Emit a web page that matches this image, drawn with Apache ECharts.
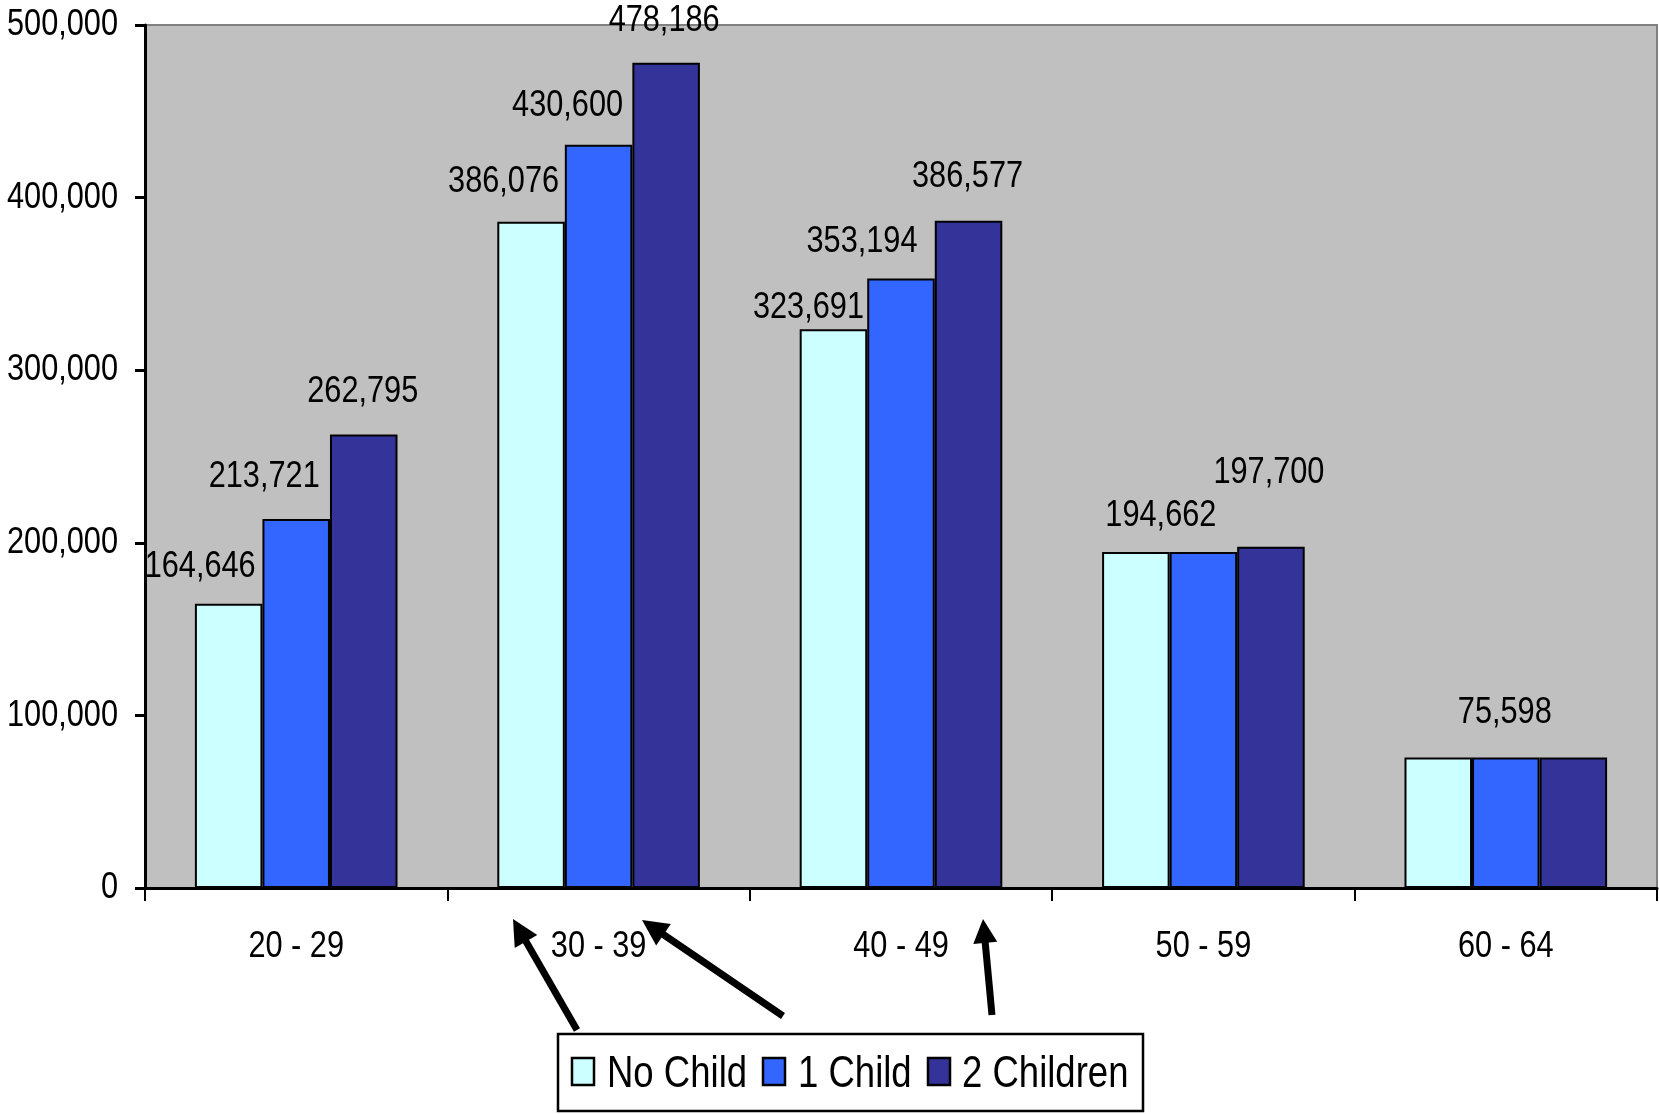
<!DOCTYPE html>
<html>
<head>
<meta charset="utf-8">
<script src="https://cdn.jsdelivr.net/npm/echarts@6/dist/echarts.min.js"></script>
<style>
  html, body { margin: 0; padding: 0; background: #ffffff; }
  #chart { width: 1659px; height: 1114px; }
</style>
</head>
<body>
<div id="chart"></div>
<script>
// Age bands on the category axis
const ageGroups = ['20 - 29', '30 - 39', '40 - 49', '50 - 59', '60 - 64'];

// Values per household type
const seriesNames = ['No Child', '1 Child', '2 Children'];
const noChild     = [164646, 386076, 323691, 194662, 75598];
const oneChild    = [213721, 430600, 353194, 194662, 75598];
const twoChildren = [262795, 478186, 386577, 197700, 75598];

// Value axis range
const yMin = 0;
const yMax = 500000;
const yStep = 100000;

// Which bars carry a printed value
const labelShown = [
  [true, true, true, true, false],
  [true, true, true, false, true],
  [true, true, true, true, false]
];

// ---- layout / styling (kept apart from the data) ----
const FONT = "'Liberation Sans', Arial, sans-serif";
const FS = 37;          // axis and value labels
const LEGEND_FS = 44;   // legend captions
const LH = 40;
const NARROW = 0.83;    // horizontal squeeze giving a narrow sans look
const colors = ['#CCFFFF', '#3366FF', '#333399'];

// horizontal shift and height of label centre above the bar top, per bar
const labelPlacement = [
  [[-28.5, 37], [-27.5, 40], [-25, 22], [25, 36], [0, 0]],
  [[-32, 42.5], [-31, 39], [-39, 37], [0, 0], [-1, 44.5]],
  [[-1, 42.5], [-2, 41.5], [-1, 43.5], [-2, 73.5], [0, 0]]
];

// legend box and entry anchors
const legendBox = { x: 558, y: 1034, w: 585, h: 77 };
const legendIconX = [572, 763, 928];
const legendTextX = [607, 798, 962];
const legendIcon = { y: 1058, w: 22, h: 27 };
const legendTextY = 1075;

const fmt = v => String(v).replace(/\B(?=(\d{3})+(?!\d))/g, ',');

function buildSeries(name, values, idx) {
  return {
    name: name,
    type: 'bar',
    barGap: '0%',
    barCategoryGap: '33%',
    itemStyle: { color: colors[idx], borderColor: '#000000', borderWidth: 2 },
    emphasis: { disabled: true },
    animation: false,
    data: values.map((v, i) => {
      const p = labelPlacement[idx][i];
      return {
        value: v,
        label: {
          show: labelShown[idx][i],
          position: 'top',
          distance: 0,
          offset: [p[0], -(p[1] - LH / 2)],
          formatter: d => fmt(d.value),
          color: '#000000',
          fontFamily: FONT,
          fontSize: FS,
          lineHeight: LH
        }
      };
    })
  };
}

// arrow annotation built from tail and tip points
function arrow(x1, y1, x2, y2, headLen, headHalf) {
  const dx = x2 - x1, dy = y2 - y1;
  const len = Math.sqrt(dx * dx + dy * dy);
  const ux = dx / len, uy = dy / len;
  const px = -uy, py = ux;
  const bx = x2 - ux * headLen, by = y2 - uy * headLen;
  return [
    {
      type: 'line',
      shape: { x1: x1, y1: y1, x2: bx + ux * 2, y2: by + uy * 2 },
      style: { stroke: '#000000', lineWidth: 7 },
      silent: true
    },
    {
      type: 'polygon',
      shape: { points: [[x2, y2], [bx + px * headHalf, by + py * headHalf], [bx - px * headHalf, by - py * headHalf]] },
      style: { fill: '#000000' },
      silent: true
    }
  ];
}

// boxed key under the axis
function legendGraphic() {
  const els = [{
    type: 'rect',
    shape: { x: legendBox.x, y: legendBox.y, width: legendBox.w, height: legendBox.h },
    style: { fill: '#ffffff', stroke: '#000000', lineWidth: 2.5 },
    silent: true
  }];
  seriesNames.forEach((name, i) => {
    els.push({
      type: 'rect',
      shape: { x: legendIconX[i], y: legendIcon.y, width: legendIcon.w, height: legendIcon.h },
      style: { fill: colors[i], stroke: '#000000', lineWidth: 2.5 },
      silent: true
    });
    els.push({
      type: 'text',
      x: legendTextX[i],
      y: legendTextY,
      style: {
        text: name,
        fill: '#000000',
        font: LEGEND_FS + 'px ' + FONT,
        textAlign: 'left',
        textVerticalAlign: 'middle'
      },
      silent: true
    });
  });
  return els;
}

const chart = echarts.init(document.getElementById('chart'), null, { renderer: 'canvas' });

const option = {
  backgroundColor: '#ffffff',
  animation: false,
  textStyle: { fontFamily: FONT },
  grid: {
    left: 145, right: 2, top: 25, bottom: 226,
    containLabel: false,
    outerBoundsMode: 'none',
    show: true,
    backgroundColor: '#C0C0C0',
    borderColor: '#808080',
    borderWidth: 2
  },
  legend: { show: false },
  xAxis: {
    type: 'category',
    data: ageGroups,
    boundaryGap: true,
    axisLine: { show: true, lineStyle: { color: '#000000', width: 3 } },
    axisTick: { show: true, alignWithLabel: false, length: 13, lineStyle: { color: '#000000', width: 2 } },
    axisLabel: { margin: 39, color: '#000000', fontFamily: FONT, fontSize: FS, lineHeight: LH },
    splitLine: { show: false }
  },
  yAxis: {
    type: 'value',
    min: yMin,
    max: yMax,
    interval: yStep,
    axisLine: { show: true, lineStyle: { color: '#000000', width: 3 } },
    axisTick: { show: true, length: 10, lineStyle: { color: '#000000', width: 3 } },
    axisLabel: { margin: 27, color: '#000000', fontFamily: FONT, fontSize: FS, formatter: v => fmt(v) },
    splitLine: { show: false }
  },
  series: [
    buildSeries(seriesNames[0], noChild, 0),
    buildSeries(seriesNames[1], oneChild, 1),
    buildSeries(seriesNames[2], twoChildren, 2)
  ],
  graphic: [].concat(
    legendGraphic(),
    arrow(577, 1030, 513, 919, 26, 13),
    arrow(783, 1016, 642, 920, 26, 13),
    arrow(992, 1015, 983, 919, 24, 12)
  )
};

chart.setOption(option);

// squeeze every text run horizontally around its own anchor point
function condenseText() {
  const zr = chart.getZr();
  zr.storage.getDisplayList(true).forEach(el => {
    if (el.type === 'tspan' && el.style) {
      el.originX = el.style.x || 0;
      el.originY = el.style.y || 0;
      el.scaleX = NARROW;
      el.markRedraw();
    }
  });
  zr.refresh();
}
condenseText();
chart.on('finished', condenseText);
</script>
</body>
</html>
